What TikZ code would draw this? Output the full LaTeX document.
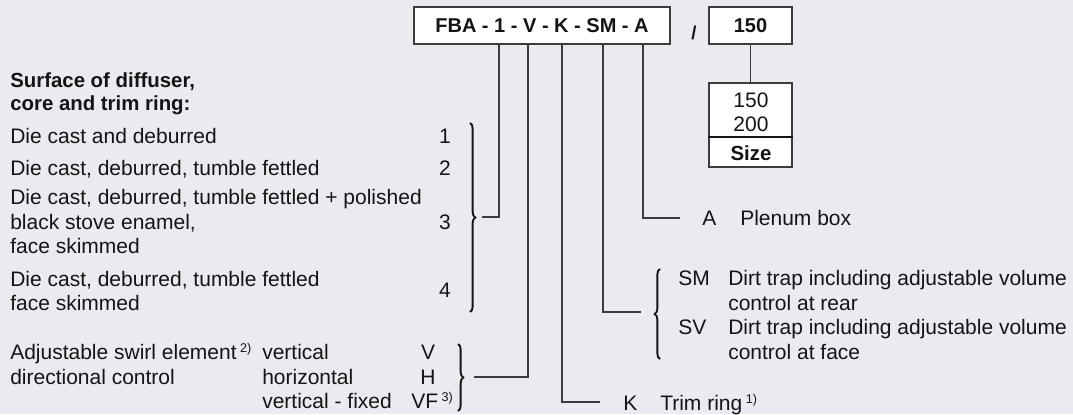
\documentclass[tikz,border=0pt]{standalone}
\usepackage{fontspec}
\setmainfont{Liberation Sans}
\usetikzlibrary{decorations.pathreplacing}
\definecolor{bg}{RGB}{236,234,240}
\definecolor{ln}{RGB}{60,60,60}
\definecolor{tx}{RGB}{20,20,20}
\newcommand{\supx}[1]{\,\raisebox{5pt}{\fontsize{9.5}{9.5}\selectfont #1}}
\begin{document}
\begin{tikzpicture}[x=0.75pt,y=-0.75pt,
 txt/.style={inner sep=0pt,anchor=base west,text=tx,font=\fontsize{15.75}{18}\selectfont},
 txtc/.style={txt,anchor=base},
 btxt/.style={txt,font=\fontsize{15.3}{18}\selectfont\bfseries},
 btxtc/.style={btxt,anchor=base},
 codebox/.style={draw=ln,line width=1pt,fill=white,inner sep=0pt,text=tx,font=\fontsize{15}{18}\selectfont\bfseries},
 conn/.style={draw=ln,line width=0.8pt},
 bracepath/.style={draw=tx,line width=1.4pt,decorate,decoration={brace,amplitude=4pt,raise=0pt}}]
\fill[bg] (0,0) rectangle (1073,414);
\useasboundingbox (0,0) rectangle (1073,414);

% code boxes
\node[codebox,minimum width=192pt,minimum height=27.75pt] (code) at (542,25.5) {FBA - 1 - V - K - SM - A};
\node[inner sep=0pt,text=tx,font=\fontsize{14}{14}\selectfont\bfseries] (slash) at (694,32.5) {/};
\node[codebox,minimum width=62.25pt,minimum height=27.75pt] (sizecode) at (750.5,25.5) {150};
\node[draw=ln,line width=1pt,fill=white,inner sep=0pt,minimum width=62.25pt,minimum height=63pt] (size) at (750.5,125) {};
\coordinate (sepy) at (0,137);
\draw[draw=tx,line width=1.8pt] (size.west |- sepy) -- (size.east |- sepy);
\node[txtc] (s150) at (751,107.5) {150};
\node[txtc] (s200) at (751,131.5) {200};
\node[btxtc] (ssize) at (751,160.3) {Size};
\draw[conn] (sizecode.south) -- (size.north);

% left list
\node[btxt] (h1) at (10,87.3) {Surface of diffuser,};
\node[btxt] (h2) at (10,110.3) {core and trim ring:};
\node[txt] (l1) at (10,143.5) {Die cast and deburred};
\node[txt] (l2) at (10,175.5) {Die cast, deburred, tumble fettled};
\node[txt] (l3a) at (10,204.5) {Die cast, deburred, tumble fettled + polished};
\node[txt] (l3b) at (10,229.5) {black stove enamel,};
\node[txt] (l3c) at (10,253.5) {face skimmed};
\node[txt] (l4a) at (10,286.5) {Die cast, deburred, tumble fettled};
\node[txt] (l4b) at (10,310.5) {face skimmed};
\node[txtc] (n1) at (445,143.5) {1};
\node[txtc] (n2) at (445,175.5) {2};
\node[txtc] (n3) at (445,229.5) {3};
\node[txtc] (n4) at (445,297.5) {4};

% swirl
\node[txt] (w1) at (10,359.5) {Adjustable swirl element\supx{2)}};
\node[txt] (w2) at (10,384.5) {directional control};
\node[txt] (wv) at (262,359.5) {vertical};
\node[txt] (wh) at (262,384.5) {horizontal};
\node[txt] (wf) at (262,408) {vertical - fixed};
\node[txtc] (cv) at (428,359.5) {V};
\node[txtc] (ch) at (428,384.5) {H};
\node[txt] (cf) at (411,408) {VF\supx{3)}};

% right texts
\node[txt] (ta) at (702,225.5) {A};
\node[txt] (tad) at (740,225.5) {Plenum box};
\node[txt] (tsm) at (678,285.5) {SM};
\node[txt] (tsm1) at (728,285.5) {Dirt trap including adjustable volume};
\node[txt] (tsm2) at (728,310.5) {control at rear};
\node[txt] (tsv) at (678,334.5) {SV};
\node[txt] (tsv1) at (728,334.5) {Dirt trap including adjustable volume};
\node[txt] (tsv2) at (728,359.5) {control at face};
\node[txt] (tk) at (623,410) {K};
\node[txt] (tkd) at (660,410) {Trim ring\supx{1)}};

% braces
\coordinate (b1top) at (470,123); \coordinate (b1bot) at (470,312);
\coordinate (b2top) at (458,344); \coordinate (b2bot) at (458,411);
\coordinate (b3top) at (660,269); \coordinate (b3bot) at (660,359);
\draw[bracepath] (b1top) -- (b1bot);
\draw[bracepath] (b2top) -- (b2bot);
\draw[bracepath] (b3bot) -- (b3top);

% connector corners
\coordinate (k1) at (499,217); \coordinate (e1) at (482,217);
\coordinate (k2) at (528,377); \coordinate (e2) at (474,377);
\coordinate (k3) at (562,402); \coordinate (e3) at (600,402);
\coordinate (k4) at (603,312); \coordinate (e4) at (641,312);
\coordinate (k5) at (643,218); \coordinate (e5) at (680,218);
\draw[conn] (code.south -| k1) -- (k1) -- (e1);
\draw[conn] (code.south -| k2) -- (k2) -- (e2);
\draw[conn] (code.south -| k3) -- (k3) -- (e3);
\draw[conn] (code.south -| k4) -- (k4) -- (e4);
\draw[conn] (code.south -| k5) -- (k5) -- (e5);
\end{tikzpicture}
\end{document}
